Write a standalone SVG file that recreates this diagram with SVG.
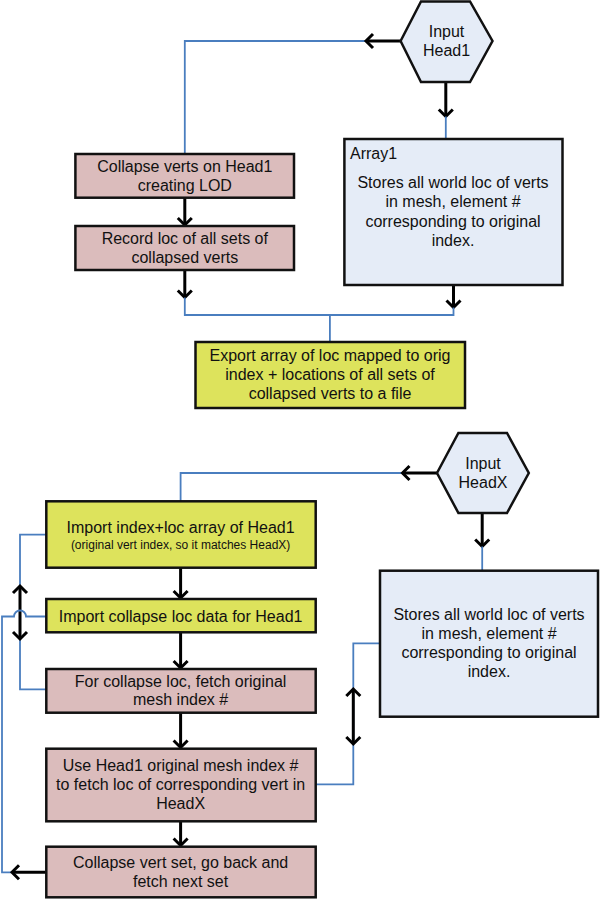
<svg xmlns="http://www.w3.org/2000/svg" width="600" height="899" viewBox="0 0 600 899">
<defs>
<style>
.t{font-family:"Liberation Sans",Arial,sans-serif;font-size:16px;fill:#111;text-anchor:middle}
.s{font-size:12px}
.l{text-anchor:start}
.pink{fill:#dbbcbc;stroke:#111;stroke-width:2.5}
.yel{fill:#dde35c;stroke:#111;stroke-width:2.5}
.blu{fill:#e5ecf7;stroke:#111;stroke-width:2.5}
.bl{fill:none;stroke:#4a7ebf;stroke-width:1.8}
.ar{fill:none;stroke:#000;stroke-width:3;marker-end:url(#chev)}
.dar{fill:none;stroke:#000;stroke-width:3;marker-end:url(#chev);marker-start:url(#chev)}
</style>
<marker id="chev" viewBox="-9 -9 12 18" markerWidth="12" markerHeight="18" refX="0" refY="0" markerUnits="userSpaceOnUse" orient="auto-start-reverse">
<path d="M-7,-7 L0,0 L-7,7" fill="none" stroke="#000" stroke-width="3"/>
</marker>
</defs>

<g id="connectors">
<!-- top section -->
<path class="bl" d="M365.4,41 H184.8 V154"/>
<line class="ar" x1="400.6" y1="41" x2="366" y2="41"/>
<line class="ar" x1="445.8" y1="82" x2="445.8" y2="116.5"/>
<path class="bl" d="M445.8,116.5 V139"/>
<line class="ar" x1="184.8" y1="197.7" x2="184.8" y2="225"/>
<line class="ar" x1="184.8" y1="270" x2="184.8" y2="297.5"/>
<line class="ar" x1="453.5" y1="285" x2="453.5" y2="307.5"/>
<path class="bl" d="M184.8,297.5 V315 H453.5 V307.5 M329.9,315 V342"/>
<!-- bottom section -->
<path class="bl" d="M401.8,473 H180.6 V501.3"/>
<line class="ar" x1="437" y1="473" x2="402.5" y2="473"/>
<line class="ar" x1="482.2" y1="513" x2="482.2" y2="546.5"/>
<path class="bl" d="M482.2,546.5 V570.7"/>
<line class="ar" x1="180.6" y1="567.7" x2="180.6" y2="598"/>
<line class="ar" x1="180.6" y1="632.3" x2="180.6" y2="668"/>
<line class="ar" x1="180.6" y1="712.7" x2="180.6" y2="747.5"/>
<line class="ar" x1="180.6" y1="821.3" x2="180.6" y2="845.5"/>
<path class="bl" d="M46.3,534.7 H20 V689.3 H46.3"/>
<line class="dar" x1="20" y1="586" x2="20" y2="639"/>
<path class="bl" d="M46.3,616.5 H26 A6,6 0 0 0 14,616.5 H2 V872.3 H11.5"/>
<line class="ar" x1="46.3" y1="872.3" x2="12" y2="872.3"/>
<path class="bl" d="M315.7,784.3 H353.3 V643.3 H380"/>
<line class="dar" x1="353.3" y1="689" x2="353.3" y2="744"/>
</g>

<g id="input-head1">
<polygon class="blu" points="400.6,41 421,1.5 470,1.5 492.5,41 470,82 421,82"/>
<text class="t" x="446.5" y="37">Input</text>
<text class="t" x="446.5" y="56">Head1</text>
</g>

<g id="collapse-verts">
<rect class="pink" x="75.4" y="154" width="218.6" height="43.7"/>
<text class="t" x="184.8" y="172">Collapse verts on Head1</text>
<text class="t" x="184.8" y="191">creating LOD</text>
</g>

<g id="record-loc">
<rect class="pink" x="75.4" y="226" width="218.6" height="44"/>
<text class="t" x="184.8" y="244">Record loc of all sets of</text>
<text class="t" x="184.8" y="263">collapsed verts</text>
</g>

<g id="array1">
<rect class="blu" x="344.4" y="139" width="218.1" height="146"/>
<text class="t l" x="350" y="159">Array1</text>
<text class="t" x="453" y="188">Stores all world loc of verts</text>
<text class="t" x="453" y="207">in mesh, element #</text>
<text class="t" x="453" y="226.5">corresponding to original</text>
<text class="t" x="453" y="245.5">index.</text>
</g>

<g id="export">
<rect class="yel" x="195.5" y="342" width="269.5" height="66"/>
<text class="t" x="330" y="361">Export array of loc mapped to orig</text>
<text class="t" x="330" y="380">index + locations of all sets of</text>
<text class="t" x="330" y="399">collapsed verts to a file</text>
</g>

<g id="input-headx">
<polygon class="blu" points="437,473 458.4,433 507,433 528.8,473 507,513 458.4,513"/>
<text class="t" x="483" y="469">Input</text>
<text class="t" x="483" y="487.5">HeadX</text>
</g>

<g id="import-array">
<rect class="yel" x="46.3" y="501.3" width="269.4" height="66.4"/>
<text class="t" x="180.6" y="533">Import index+loc array of Head1</text>
<text class="t s" x="180.6" y="548.5">(original vert index, so it matches HeadX)</text>
</g>

<g id="import-collapse">
<rect class="yel" x="46.3" y="599" width="269.4" height="33.3"/>
<text class="t" x="180.6" y="621.5">Import collapse loc data for Head1</text>
</g>

<g id="fetch-index">
<rect class="pink" x="46.3" y="669" width="269.4" height="43.7"/>
<text class="t" x="180.6" y="686.5">For collapse loc, fetch original</text>
<text class="t" x="180.6" y="705">mesh index #</text>
</g>

<g id="fetch-loc">
<rect class="pink" x="46.3" y="748.7" width="269.4" height="72.6"/>
<text class="t" x="180.6" y="770.5">Use Head1 original mesh index #</text>
<text class="t" x="180.6" y="790">to fetch loc of corresponding vert in</text>
<text class="t" x="180.6" y="809">HeadX</text>
</g>

<g id="collapse-set">
<rect class="pink" x="46.3" y="846.7" width="269.4" height="50.6"/>
<text class="t" x="180.6" y="868">Collapse vert set, go back and</text>
<text class="t" x="180.6" y="887">fetch next set</text>
</g>

<g id="arrayx">
<rect class="blu" x="380" y="570.7" width="218" height="146"/>
<text class="t" x="489" y="619.5">Stores all world loc of verts</text>
<text class="t" x="489" y="639">in mesh, element #</text>
<text class="t" x="489" y="658">corresponding to original</text>
<text class="t" x="489" y="677">index.</text>
</g>
</svg>
